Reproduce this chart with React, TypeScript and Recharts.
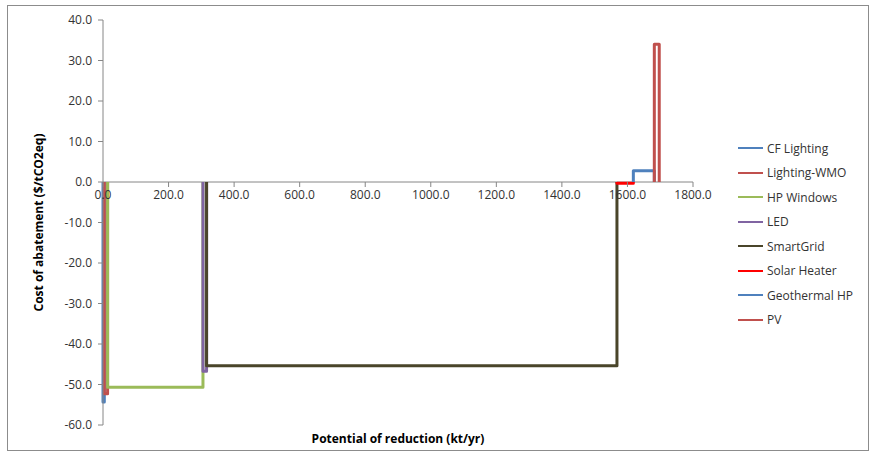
import { Legend, Line, LineChart, ReferenceLine, XAxis, YAxis } from "recharts";

// abatement options, left to right along the curve
const MEASURES = [
  "CF Lighting",
  "Lighting-WMO",
  "HP Windows",
  "LED",
  "SmartGrid",
  "Solar Heater",
  "Geothermal HP",
  "PV"
];
const START_KT = [0, 4, 14, 305, 316, 1568, 1618, 1682];
const END_KT = [4, 14, 305, 316, 1568, 1618, 1682, 1697];
const COST = [-54.3, -52.3, -50.7, -46.7, -45.4, -0.3, 2.8, 34.0];

const X_TICKS = [0, 200, 400, 600, 800, 1000, 1200, 1400, 1600, 1800];
const Y_TICKS = [40, 30, 20, 10, 0, -10, -20, -30, -40, -50, -60];

const COLORS = [
  "#4f81bd",
  "#c0504d",
  "#9bbb59",
  "#8064a2",
  "#4a452a",
  "#ff0000",
  "#4f81bd",
  "#c0504d"
];

const FONT = "'Open Sans', sans-serif";
const AXIS = "#868686";
const TEXT = "#333333";

const Y_MIN = -60;
const Y_MAX = 40;
const TOP = 14;
const PLOT_H = 405;
const ZERO_Y = TOP + (PLOT_H * Y_MAX) / (Y_MAX - Y_MIN);

// each measure is drawn as an open box: 0 -> cost -> across -> back to 0
const series = MEASURES.map((name, i) => ({
  name,
  color: COLORS[i],
  points: [
    { x: START_KT[i], y: 0 },
    { x: START_KT[i], y: COST[i] },
    { x: END_KT[i], y: COST[i] },
    { x: END_KT[i], y: 0 }
  ]
}));

// x ticks sit on the zero line, not at the bottom of the plot
function ZeroTick({ x, payload }: any) {
  return (
    <g>
      <line x1={x} x2={x} y1={ZERO_Y} y2={ZERO_Y + 5} stroke={AXIS} />
      <text
        x={x}
        y={ZERO_Y + 17}
        textAnchor="middle"
        fontSize={12}
        fontFamily={FONT}
        fill={TEXT}
      >
        {Number(payload.value).toFixed(1)}
      </text>
    </g>
  );
}

function LegendBox() {
  return (
    <div style={{ fontFamily: FONT, fontSize: 12, color: TEXT }}>
      {series.map((s) => (
        <div
          key={s.name}
          style={{ height: 24.5, display: "flex", alignItems: "center" }}
        >
          <span
            style={{
              display: "inline-block",
              width: 25,
              height: 2,
              background: s.color,
              marginRight: 4
            }}
          />
          {s.name}
        </div>
      ))}
    </div>
  );
}

export default function App() {
  return (
    <div
      style={{
        position: "absolute",
        left: 7,
        top: 5,
        width: 860,
        height: 444,
        border: "1px solid #8c8c8c",
        background: "#fff"
      }}
    >
      <LineChart
        width={860}
        height={444}
        margin={{ top: TOP, right: 175, bottom: 0, left: 0 }}
      >
        <XAxis
          dataKey="x"
          type="number"
          domain={[0, 1800]}
          ticks={X_TICKS}
          axisLine={false}
          tickLine={false}
          tick={<ZeroTick />}
          height={25}
          label={{
            value: "Potential of reduction (kt/yr)",
            position: "insideBottom",
            offset: 7,
            style: { fontFamily: FONT, fontSize: 12, fontWeight: "bold", fill: "#000" }
          }}
        />
        <YAxis
          dataKey="y"
          type="number"
          domain={[Y_MIN, Y_MAX]}
          ticks={Y_TICKS}
          width={95}
          stroke={AXIS}
          tickSize={5}
          tickMargin={6}
          tickFormatter={(v: number) => v.toFixed(1)}
          tick={{ fontFamily: FONT, fontSize: 12, fill: TEXT }}
          label={{
            value: "Cost of abatement ($/tCO2eq)",
            angle: -90,
            position: "insideLeft",
            offset: 31,
            style: {
              textAnchor: "middle",
              fontFamily: FONT,
              fontSize: 12,
              fontWeight: "bold",
              fill: "#000"
            }
          }}
        />
        <ReferenceLine y={0} stroke={AXIS} />
        <Legend
          layout="vertical"
          align="center"
          verticalAlign="middle"
          content={<LegendBox />}
          wrapperStyle={{ left: 730, top: 130, width: 130 }}
        />
        {series.map((s) => (
          <Line
            key={s.name}
            name={s.name}
            data={s.points}
            dataKey="y"
            type="linear"
            stroke={s.color}
            strokeWidth={3}
            strokeLinejoin="round"
            dot={false}
            isAnimationActive={false}
          />
        ))}
      </LineChart>
    </div>
  );
}
